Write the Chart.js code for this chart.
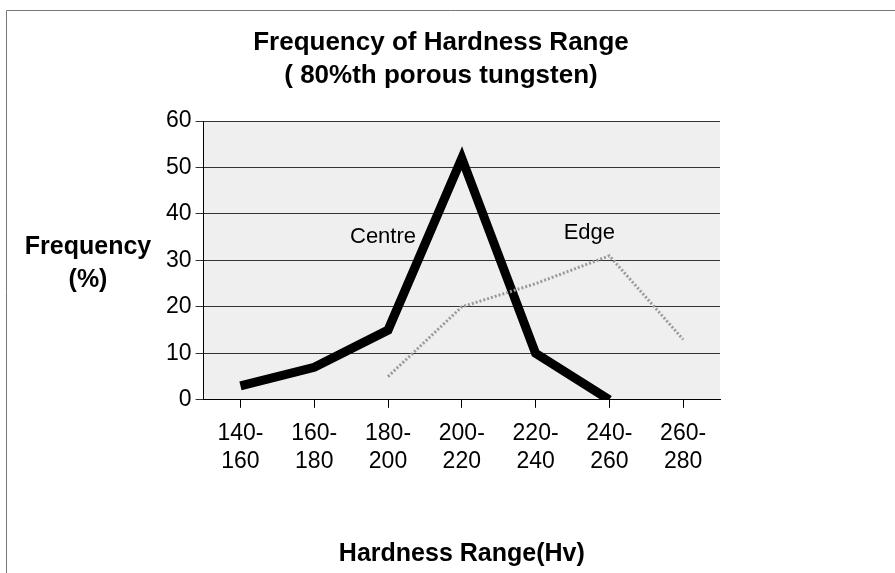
<!DOCTYPE html>
<html>
<head>
<meta charset="utf-8">
<script src="https://cdn.jsdelivr.net/npm/chart.js@4.4.1/dist/chart.umd.min.js"></script>
<style>
  html, body { margin: 0; padding: 0; background: #fff; }
  #wrap { width: 895px; height: 573px; position: relative; }
</style>
</head>
<body>
<div id="wrap"><canvas id="chart" width="895" height="573"></canvas></div>
<script>
const categories = [['140-', '160'], ['160-', '180'], ['180-', '200'], ['200-', '220'], ['220-', '240'], ['240-', '260'], ['260-', '280']];
const centreValues = [3, 7, 15, 52, 10, 0, null];
const edgeValues = [null, null, 5, 20, 25, 31, 13];
const yTicks = [0, 10, 20, 30, 40, 50, 60];

const FONT = "'Liberation Sans', Arial, sans-serif";

// page frame, plot background, y title and series names
const decor = {
  id: 'decor',
  beforeDraw(chart) {
    const { ctx, chartArea } = chart;
    ctx.save();
    ctx.fillStyle = '#fff';
    ctx.fillRect(0, 0, chart.width, chart.height);
    ctx.strokeStyle = '#777';
    ctx.lineWidth = 1;
    ctx.beginPath();
    ctx.moveTo(6.5, chart.height);
    ctx.lineTo(6.5, 10.5);
    ctx.lineTo(chart.width, 10.5);
    ctx.stroke();
    ctx.fillStyle = '#efefef';
    ctx.fillRect(chartArea.left, chartArea.top, chartArea.right - chartArea.left, chartArea.bottom - chartArea.top);
    ctx.restore();
  },
  afterDraw(chart) {
    const { ctx } = chart;
    const x = chart.scales.x, y = chart.scales.y;
    ctx.save();
    ctx.fillStyle = '#000';
    ctx.textAlign = 'center';
    ctx.textBaseline = 'middle';
    ctx.font = 'bold 25px ' + FONT;
    ctx.fillText('Frequency', 88, 247);
    ctx.fillText('(%)', 88, 280);
    ctx.font = '22px ' + FONT;
    ctx.fillText('Centre', x.getPixelForValue(2) - 5, y.getPixelForValue(35));
    ctx.fillText('Edge', x.getPixelForValue(5) - 20, y.getPixelForValue(36));
    ctx.restore();
  }
};

new Chart(document.getElementById('chart'), {
  type: 'line',
  data: {
    labels: categories,
    datasets: [
      {
        label: 'Edge',
        data: edgeValues,
        borderColor: '#9a9a9a',
        borderWidth: 3,
        borderDash: [2, 2],
        pointRadius: 0,
        tension: 0,
        spanGaps: false
      },
      {
        label: 'Centre',
        data: centreValues,
        borderColor: '#000',
        borderWidth: 9,
        borderJoinStyle: 'miter',
        pointRadius: 0,
        tension: 0,
        spanGaps: false
      }
    ]
  },
  options: {
    responsive: false,
    animation: false,
    layout: { padding: { left: 162, right: 175, top: 26, bottom: 4 } },
    plugins: {
      legend: { display: false },
      tooltip: { enabled: false },
      title: {
        display: true,
        text: ['Frequency of Hardness Range', '( 80%th porous tungsten)'],
        color: '#000',
        font: { family: FONT, size: 26, weight: 'bold', lineHeight: 1.27 },
        padding: { top: 0, bottom: 29 }
      }
    },
    scales: {
      x: {
        offset: true,
        grid: { drawOnChartArea: false, drawTicks: true, tickLength: 8, color: '#000' },
        border: { color: '#000' },
        ticks: {
          color: '#000',
          maxRotation: 0,
          font: { family: FONT, size: 23, lineHeight: 1.2 },
          padding: 12
        },
        title: {
          display: true,
          text: 'Hardness Range(Hv)',
          color: '#000',
          font: { family: FONT, size: 25, weight: 'bold' },
          padding: { top: 52, bottom: 0 }
        }
      },
      y: {
        min: 0,
        max: 60,
        afterBuildTicks(scale) { scale.ticks = yTicks.map(v => ({ value: v })); },
        grid: { color: '#333', lineWidth: 1, tickLength: 8 },
        border: { color: '#000' },
        ticks: {
          color: '#000',
          font: { family: FONT, size: 23 },
          padding: 4
        }
      }
    }
  },
  plugins: [decor]
});
</script>
</body>
</html>
